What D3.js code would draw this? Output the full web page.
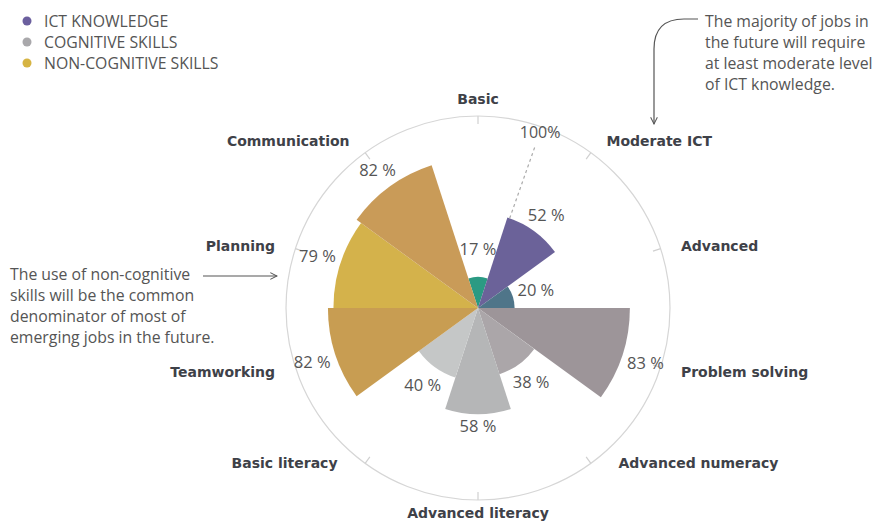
<!DOCTYPE html>
<html>
<head>
<meta charset="utf-8">
<script src="https://cdn.jsdelivr.net/npm/d3@7"></script>
<style>
  body { margin: 0; background: #fff; }
  svg { display: block; }
  .txt { font-family: "Open Sans", sans-serif; fill: #555; }
  .cat { font-family: "DejaVu Sans", sans-serif; font-weight: bold; fill: #3e4148; }
</style>
</head>
<body>
<svg id="chart" width="876" height="522"></svg>
<script>
// categories clockwise from the top, one 36 degree sector each
var categories = ["Basic", "Moderate ICT", "Advanced", "Problem solving", "Advanced numeracy",
    "Advanced literacy", "Basic literacy", "Teamworking", "Planning", "Communication"];
var values = [17, 52, 20, 83, 38, 58, 40, 82, 79, 82];
var sectorColors = ["#2b9a83", "#6b6299", "#4f7589", "#9d9599", "#aba6a9",
    "#b5b6b7", "#c5c7c7", "#c89d52", "#d4b24b", "#c99b58"];

var legendLabels = ["ICT KNOWLEDGE", "COGNITIVE SKILLS", "NON-COGNITIVE SKILLS"];
var legendColors = ["#6b5f9e", "#a9a8ab", "#d6b443"];

var noteRight = ["The majority of jobs in", "the future will require", "at least moderate level", "of ICT knowledge."];
var noteLeft = ["The use of non-cognitive", "skills will be the common", "denominator of most of", "emerging jobs in the future."];

var svg = d3.select("#chart");
var cx = 478, cy = 308, outerR = 192;

var defs = svg.append("defs");
defs.append("marker")
    .attr("id", "arrow")
    .attr("viewBox", "0 0 10 10")
    .attr("refX", 9).attr("refY", 5)
    .attr("markerWidth", 7).attr("markerHeight", 7)
    .attr("orient", "auto")
    .append("path")
    .attr("d", "M1,1 L9,5 L1,9")
    .attr("fill", "none")
    .attr("stroke", "#555")
    .attr("stroke-width", 1.2);

var angle = d3.scaleBand()
    .domain(categories)
    .range([-Math.PI / 10, 2 * Math.PI - Math.PI / 10]);
var radius = d3.scaleLinear().domain([0, 100]).range([0, 183]);

var g = svg.append("g").attr("transform", "translate(" + cx + "," + cy + ")");

// outer ring with a tick at each sector middle
g.append("circle")
    .attr("r", outerR)
    .attr("fill", "none")
    .attr("stroke", "#d6d6d6")
    .attr("stroke-width", 1.2);

function mid(c) { return angle(c) + angle.bandwidth() / 2; }

g.selectAll(".tick")
    .data(categories)
    .enter().append("line")
    .attr("x1", function(c) { return Math.sin(mid(c)) * (outerR - 8); })
    .attr("y1", function(c) { return -Math.cos(mid(c)) * (outerR - 8); })
    .attr("x2", function(c) { return Math.sin(mid(c)) * outerR; })
    .attr("y2", function(c) { return -Math.cos(mid(c)) * outerR; })
    .attr("stroke", "#d0d0d0")
    .attr("stroke-width", 1.2);

var arc = d3.arc()
    .innerRadius(0)
    .outerRadius(function(d, i) { return radius(d); })
    .startAngle(function(d, i) { return angle(categories[i]); })
    .endAngle(function(d, i) { return angle(categories[i]) + angle.bandwidth(); });

g.selectAll(".sector")
    .data(values)
    .enter().append("path")
    .attr("d", function(d, i) { return arc(d, i); })
    .attr("fill", function(d, i) { return sectorColors[i]; });

// 100% reference line over the Moderate ICT sector
var refA = angle(categories[1]) + 0.025;
g.append("line")
    .attr("x1", Math.sin(refA) * radius(values[1]))
    .attr("y1", -Math.cos(refA) * radius(values[1]))
    .attr("x2", Math.sin(refA) * radius(94))
    .attr("y2", -Math.cos(refA) * radius(94))
    .attr("stroke", "#aaa")
    .attr("stroke-width", 1.2)
    .attr("stroke-dasharray", "3,3");
g.append("text")
    .attr("class", "txt")
    .attr("x", Math.sin(refA) * radius(102))
    .attr("y", -Math.cos(refA) * radius(102))
    .attr("text-anchor", "middle")
    .attr("dominant-baseline", "central")
    .style("font-size", "16px")
    .text("100%");

// value labels, pushed out by the half size of the label in that direction
function valR(d, i) {
    var a = mid(categories[i]);
    var r = radius(d) + 4 + 19 * Math.abs(Math.sin(a)) + 7 * Math.abs(Math.cos(a));
    return Math.max(r, 60);
}
g.selectAll(".val")
    .data(values)
    .enter().append("text")
    .attr("class", "txt")
    .attr("x", function(d, i) { return Math.sin(mid(categories[i])) * valR(d, i); })
    .attr("y", function(d, i) { return -Math.cos(mid(categories[i])) * valR(d, i); })
    .attr("text-anchor", "middle")
    .attr("dominant-baseline", "central")
    .style("font-size", "16.5px")
    .text(function(d) { return d + " %"; });

// category labels
g.selectAll(".cat")
    .data(categories)
    .enter().append("text")
    .attr("class", "cat")
    .attr("x", function(c) {
        var s = Math.sin(mid(c)), k = Math.cos(mid(c));
        if (Math.abs(s) < 0.1) return 0;
        var push = k < -0.7 ? 20 : 8;
        return s * 205 + push * Math.sign(s);
    })
    .attr("y", function(c) {
        var s = Math.sin(mid(c)), k = Math.cos(mid(c));
        if (Math.abs(s) < 0.1) return k > 0 ? -209 : 205;
        return -k * 205 - (k < -0.7 ? 10 : 0) + (Math.abs(k) < 0.5 ? 1 : -1);
    })
    .attr("text-anchor", function(c) {
        var s = Math.sin(mid(c));
        return Math.abs(s) < 0.1 ? "middle" : (s > 0 ? "start" : "end");
    })
    .attr("dominant-baseline", "central")
    .style("font-size", "14px")
    .text(function(c) { return c; });

// legend
var legend = svg.append("g").attr("transform", "translate(27,21)");
legend.selectAll("circle")
    .data(legendLabels)
    .enter().append("circle")
    .attr("cx", 0)
    .attr("cy", function(d, i) { return i * 21; })
    .attr("r", 4.5)
    .attr("fill", function(d, i) { return legendColors[i]; });
legend.selectAll("text")
    .data(legendLabels)
    .enter().append("text")
    .attr("class", "txt")
    .attr("x", 17)
    .attr("y", function(d, i) { return i * 21; })
    .attr("dominant-baseline", "central")
    .style("font-size", "15.8px")
    .text(function(d) { return d; });

// annotations
svg.append("text")
    .attr("class", "txt")
    .attr("x", 705).attr("y", 21)
    .style("font-size", "15.8px")
    .selectAll("tspan")
    .data(noteRight)
    .enter().append("tspan")
    .attr("x", 705)
    .attr("dy", function(d, i) { return i === 0 ? "0.35em" : 21; })
    .text(function(d) { return d; });

svg.append("path")
    .attr("d", "M698,19 L684,19 Q654,19 654,49 L654,124")
    .attr("fill", "none")
    .attr("stroke", "#555")
    .attr("stroke-width", 1.2)
    .attr("marker-end", "url(#arrow)");

svg.append("text")
    .attr("class", "txt")
    .attr("x", 10).attr("y", 274)
    .style("font-size", "15.8px")
    .selectAll("tspan")
    .data(noteLeft)
    .enter().append("tspan")
    .attr("x", 10)
    .attr("dy", function(d, i) { return i === 0 ? "0.35em" : 21; })
    .text(function(d) { return d; });

svg.append("path")
    .attr("d", "M203,276 L277,276")
    .attr("fill", "none")
    .attr("stroke", "#555")
    .attr("stroke-width", 1.2)
    .attr("marker-end", "url(#arrow)");
</script>
</body>
</html>
